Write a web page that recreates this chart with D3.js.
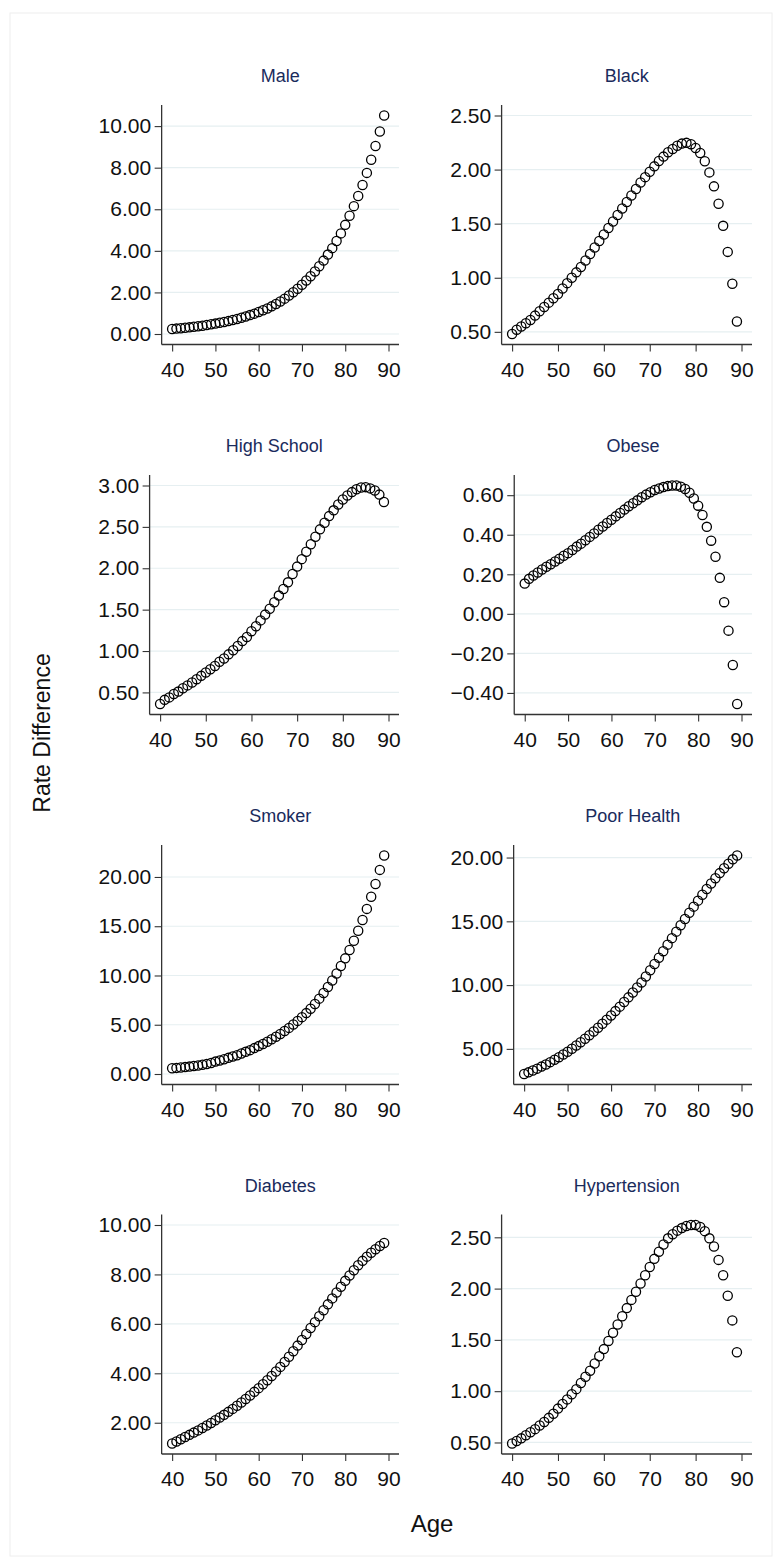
<!DOCTYPE html>
<html>
<head>
<meta charset="utf-8">
<script src="https://cdn.jsdelivr.net/npm/d3@7"></script>
<style>
body { margin: 0; background: #fff; }
text { font-family: "Liberation Sans", Arial, sans-serif; }
</style>
</head>
<body>
<div id="canvas"></div>
<script>
/* DATA */
const ages = [40,41,42,43,44,45,46,47,48,49,50,51,52,53,54,55,56,57,58,59,
              60,61,62,63,64,65,66,67,68,69,70,71,72,73,74,75,76,77,78,79,
              80,81,82,83,84,85,86,87,88,89];
const ageTicks = [40, 50, 60, 70, 80, 90];

const titles = ["Male", "Black", "High School", "Obese", "Smoker", "Poor Health", "Diabetes", "Hypertension"];

const male = [0.24,0.26,0.28,0.30,0.32,0.35,0.37,0.40,0.43,0.47,
              0.50,0.54,0.58,0.62,0.67,0.72,0.78,0.84,0.91,0.98,
              1.06,1.14,1.23,1.33,1.44,1.56,1.70,1.85,2.01,2.18,
              2.37,2.57,2.78,3.01,3.26,3.53,3.82,4.13,4.47,4.84,
              5.25,5.69,6.15,6.64,7.17,7.75,8.38,9.04,9.74,10.51];
const black = [0.48,0.52,0.55,0.58,0.61,0.65,0.69,0.73,0.77,0.81,
               0.85,0.90,0.95,1.00,1.05,1.10,1.16,1.22,1.28,1.34,
               1.40,1.46,1.52,1.58,1.64,1.70,1.76,1.82,1.88,1.93,
               1.98,2.03,2.08,2.12,2.16,2.19,2.22,2.24,2.247,2.235,
               2.20,2.154,2.077,1.974,1.845,1.684,1.48,1.239,0.945,0.596];
const highSchool = [0.36,0.41,0.44,0.48,0.51,0.55,0.585,0.62,0.66,0.70,
                    0.74,0.78,0.82,0.87,0.91,0.96,1.01,1.06,1.12,1.17,
                    1.24,1.30,1.37,1.44,1.51,1.59,1.67,1.75,1.83,1.93,
                    2.02,2.11,2.20,2.29,2.38,2.47,2.55,2.63,2.70,2.77,
                    2.83,2.88,2.92,2.955,2.975,2.98,2.965,2.94,2.89,2.80];
const obese = [0.153,0.177,0.194,0.209,0.224,0.238,0.251,0.265,0.279,0.294,
               0.307,0.323,0.340,0.355,0.372,0.389,0.406,0.425,0.442,0.459,
               0.476,0.493,0.510,0.527,0.544,0.559,0.574,0.590,0.603,0.615,
               0.626,0.634,0.641,0.646,0.649,0.649,0.643,0.631,0.612,0.583,
               0.547,0.500,0.440,0.370,0.289,0.182,0.059,-0.085,-0.259,-0.456];
const smoker = [0.58,0.62,0.66,0.70,0.75,0.81,0.87,0.94,1.02,1.11,
                1.26,1.37,1.50,1.64,1.77,1.91,2.08,2.25,2.42,2.63,
                2.83,3.04,3.28,3.52,3.79,4.06,4.37,4.68,5.02,5.39,
                5.77,6.18,6.62,7.10,7.65,8.23,8.84,9.49,10.20,10.96,
                11.74,12.59,13.52,14.54,15.63,16.76,17.99,19.28,20.72,22.18];
const poorHealth = [3.03,3.16,3.30,3.45,3.61,3.78,3.96,4.15,4.35,4.56,
                    4.78,5.01,5.26,5.52,5.79,6.07,6.36,6.66,6.97,7.29,
                    7.62,7.96,8.31,8.67,9.04,9.42,9.81,10.21,10.68,11.16,
                    11.65,12.15,12.66,13.17,13.68,14.19,14.69,15.18,15.67,16.15,
                    16.62,17.08,17.53,17.96,18.38,18.78,19.16,19.52,19.86,20.16];
const diabetes = [1.16,1.24,1.33,1.42,1.51,1.60,1.69,1.79,1.89,1.99,
                  2.10,2.21,2.32,2.44,2.56,2.69,2.82,2.96,3.10,3.25,
                  3.40,3.56,3.72,3.89,4.07,4.26,4.46,4.67,4.89,5.12,
                  5.35,5.59,5.83,6.07,6.31,6.55,6.79,7.03,7.27,7.50,
                  7.74,7.96,8.17,8.37,8.55,8.72,8.88,9.02,9.15,9.27];
const hypertension = [0.49,0.515,0.54,0.57,0.60,0.63,0.665,0.70,0.74,0.78,
                      0.83,0.875,0.92,0.97,1.02,1.08,1.14,1.20,1.27,1.34,
                      1.41,1.49,1.57,1.65,1.73,1.81,1.89,1.97,2.05,2.13,
                      2.21,2.29,2.36,2.43,2.49,2.53,2.565,2.59,2.61,2.62,
                      2.62,2.60,2.56,2.49,2.41,2.28,2.13,1.93,1.69,1.38];

const maleTicks = [0, 2, 4, 6, 8, 10];
const blackTicks = [0.5, 1, 1.5, 2, 2.5];
const highSchoolTicks = [0.5, 1, 1.5, 2, 2.5, 3];
const obeseTicks = [-0.4, -0.2, 0, 0.2, 0.4, 0.6];
const smokerTicks = [0, 5, 10, 15, 20];
const poorHealthTicks = [5, 10, 15, 20];
const diabetesTicks = [2, 4, 6, 8, 10];
const hypertensionTicks = [0.5, 1, 1.5, 2, 2.5];

const seriesList = [male, black, highSchool, obese, smoker, poorHealth, diabetes, hypertension];
const tickList = [maleTicks, blackTicks, highSchoolTicks, obeseTicks, smokerTicks, poorHealthTicks, diabetesTicks, hypertensionTicks];

/* CANVAS */
const width = 780;
const height = 1564;

const svg = d3.select("#canvas")
    .append("svg")
    .attr("width", width)
    .attr("height", height);

svg.append("rect")
    .attr("x", 10).attr("y", 13)
    .attr("width", 762).attr("height", 1543)
    .attr("fill", "#fff")
    .attr("stroke", "#eeeeee");

/* LAYOUT */
const labelLeft = [97, 449];
const plotRight = [399, 752];
const rowTop = [105, 475, 845, 1214.5];
const plotH = 239.5;
const inner = 10.5;
const tickFont = "21px";
const fmt = d3.format(".2f");
const navy = "#1a2b5c";
const gridColor = "#e6eff1";
const axisColor = "#333";

function labelWidth(ticks) {
    const tmp = svg.append("g").style("font-size", tickFont);
    let w = 0;
    ticks.forEach(t => {
        const node = tmp.append("text").text(fmt(t)).node();
        w = Math.max(w, node.getComputedTextLength());
    });
    tmp.remove();
    return w;
}

/* DRAW EACH PANEL */
titles.forEach((title, i) => {
    const col = i % 2;
    const row = Math.floor(i / 2);
    const values = seriesList[i];
    const ticks = tickList[i];

    const x0 = labelLeft[col] + labelWidth(ticks) * 1.03 + 10.5;
    const x1 = plotRight[col];
    const top = rowTop[row];
    const bottom = top + plotH;

    const x = d3.scaleLinear()
        .domain(d3.extent(ages.concat(ageTicks)))
        .range([x0 + inner, x1 - inner]);
    const y = d3.scaleLinear()
        .domain(d3.extent(values.concat(ticks)))
        .range([bottom - inner, top + inner]);

    const g = svg.append("g");

    // gridlines
    g.selectAll(".grid")
        .data(ticks)
        .enter()
        .append("line")
        .attr("x1", x0).attr("x2", x1)
        .attr("y1", d => y(d)).attr("y2", d => y(d))
        .attr("stroke", gridColor)
        .attr("stroke-width", 1.2);

    // y axis
    const yAxis = g.append("g")
        .attr("transform", `translate(${x0},0)`)
        .call(d3.axisLeft(y).tickValues(ticks).tickFormat(fmt).tickSize(7).tickPadding(3.5));
    yAxis.select(".domain").remove();
    yAxis.selectAll("line").attr("stroke", axisColor).attr("stroke-width", 1.1);
    yAxis.selectAll("text").style("font-size", tickFont).attr("fill", "#111").attr("font-family", null);

    // x axis
    const xAxis = g.append("g")
        .attr("transform", `translate(0,${bottom})`)
        .call(d3.axisBottom(x).tickValues(ageTicks).tickFormat(d3.format("d")).tickSize(7).tickPadding(10.2));
    xAxis.select(".domain").remove();
    xAxis.selectAll("line").attr("stroke", axisColor).attr("stroke-width", 1.1);
    xAxis.selectAll("text").style("font-size", tickFont).attr("fill", "#111").attr("font-family", null);

    // axis lines
    g.append("line")
        .attr("x1", x0).attr("x2", x0)
        .attr("y1", top).attr("y2", bottom)
        .attr("stroke", axisColor).attr("stroke-width", 1.3);
    g.append("line")
        .attr("x1", x0).attr("x2", x1)
        .attr("y1", bottom).attr("y2", bottom)
        .attr("stroke", axisColor).attr("stroke-width", 1.3);

    // points
    g.selectAll(".pt")
        .data(values)
        .enter()
        .append("circle")
        .attr("cx", (d, k) => x(ages[k]))
        .attr("cy", d => y(d))
        .attr("r", 4.6)
        .attr("fill", "none")
        .attr("stroke", "#000")
        .attr("stroke-width", 1.3);

    // title
    g.append("text")
        .attr("x", (x0 + x1) / 2)
        .attr("y", top - 23)
        .attr("text-anchor", "middle")
        .style("font-size", "18px")
        .attr("fill", navy)
        .text(title);
});

/* AXIS TITLES */
svg.append("text")
    .attr("transform", "translate(50,733) rotate(-90)")
    .attr("text-anchor", "middle")
    .style("font-size", "23px")
    .attr("fill", "#111")
    .text("Rate Difference");

svg.append("text")
    .attr("x", 432)
    .attr("y", 1532)
    .attr("text-anchor", "middle")
    .style("font-size", "24px")
    .attr("fill", "#111")
    .text("Age");
</script>
</body>
</html>
